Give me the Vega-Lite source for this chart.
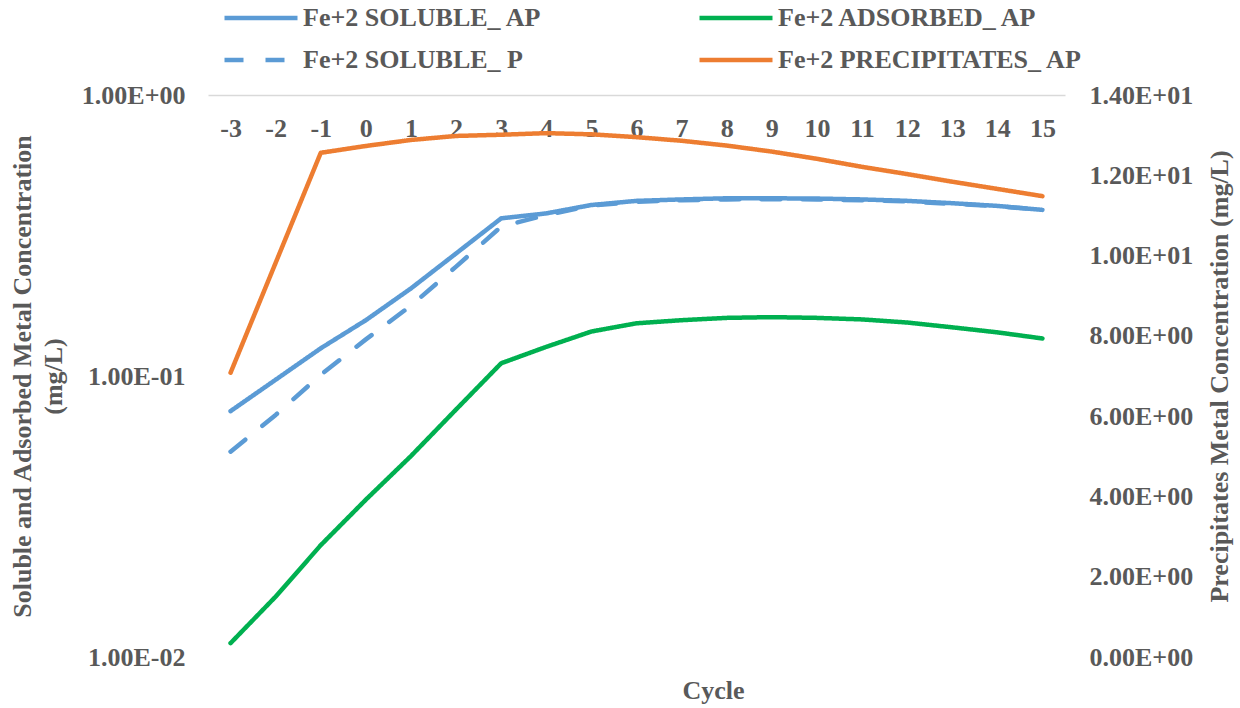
{
  "$schema": "https://vega.github.io/schema/vega-lite/v6.json",
  "width": 857,
  "height": 562,
  "autosize": {"type": "none"},
  "padding": {"left": 208, "top": 95, "right": 175, "bottom": 51},
  "background": "white",
  "config": {
    "view": {"stroke": null},
    "font": "Liberation Serif",
    "axis": {
      "labelFont": "Liberation Serif",
      "labelFontWeight": "bold",
      "labelFontSize": 26,
      "labelColor": "#595959",
      "titleFont": "Liberation Serif",
      "titleFontWeight": "bold",
      "titleFontSize": 26,
      "titleColor": "#595959",
      "grid": false,
      "ticks": false,
      "tickSize": 0
    },
    "legend": {
      "labelFont": "Liberation Serif",
      "labelFontWeight": "bold",
      "labelFontSize": 26,
      "labelColor": "#595959",
      "labelLimit": 400
    }
  },
  "data": {
    "values": [
      {"cycle": -3, "series": "Fe+2 SOLUBLE_ AP", "value": 0.075},
      {"cycle": -2, "series": "Fe+2 SOLUBLE_ AP", "value": 0.097},
      {"cycle": -1, "series": "Fe+2 SOLUBLE_ AP", "value": 0.1255},
      {"cycle": 0, "series": "Fe+2 SOLUBLE_ AP", "value": 0.158},
      {"cycle": 1, "series": "Fe+2 SOLUBLE_ AP", "value": 0.205},
      {"cycle": 2, "series": "Fe+2 SOLUBLE_ AP", "value": 0.273},
      {"cycle": 3, "series": "Fe+2 SOLUBLE_ AP", "value": 0.364},
      {"cycle": 4, "series": "Fe+2 SOLUBLE_ AP", "value": 0.379},
      {"cycle": 5, "series": "Fe+2 SOLUBLE_ AP", "value": 0.406},
      {"cycle": 6, "series": "Fe+2 SOLUBLE_ AP", "value": 0.42},
      {"cycle": 7, "series": "Fe+2 SOLUBLE_ AP", "value": 0.425},
      {"cycle": 8, "series": "Fe+2 SOLUBLE_ AP", "value": 0.429},
      {"cycle": 9, "series": "Fe+2 SOLUBLE_ AP", "value": 0.429},
      {"cycle": 10, "series": "Fe+2 SOLUBLE_ AP", "value": 0.428},
      {"cycle": 11, "series": "Fe+2 SOLUBLE_ AP", "value": 0.425},
      {"cycle": 12, "series": "Fe+2 SOLUBLE_ AP", "value": 0.42},
      {"cycle": 13, "series": "Fe+2 SOLUBLE_ AP", "value": 0.412},
      {"cycle": 14, "series": "Fe+2 SOLUBLE_ AP", "value": 0.403},
      {"cycle": 15, "series": "Fe+2 SOLUBLE_ AP", "value": 0.39},

      {"cycle": -3, "series": "Fe+2 ADSORBED_ AP", "value": 0.0112},
      {"cycle": -2, "series": "Fe+2 ADSORBED_ AP", "value": 0.0164},
      {"cycle": -1, "series": "Fe+2 ADSORBED_ AP", "value": 0.025},
      {"cycle": 0, "series": "Fe+2 ADSORBED_ AP", "value": 0.0363},
      {"cycle": 1, "series": "Fe+2 ADSORBED_ AP", "value": 0.0519},
      {"cycle": 2, "series": "Fe+2 ADSORBED_ AP", "value": 0.076},
      {"cycle": 3, "series": "Fe+2 ADSORBED_ AP", "value": 0.111},
      {"cycle": 4, "series": "Fe+2 ADSORBED_ AP", "value": 0.127},
      {"cycle": 5, "series": "Fe+2 ADSORBED_ AP", "value": 0.144},
      {"cycle": 6, "series": "Fe+2 ADSORBED_ AP", "value": 0.154},
      {"cycle": 7, "series": "Fe+2 ADSORBED_ AP", "value": 0.158},
      {"cycle": 8, "series": "Fe+2 ADSORBED_ AP", "value": 0.161},
      {"cycle": 9, "series": "Fe+2 ADSORBED_ AP", "value": 0.162},
      {"cycle": 10, "series": "Fe+2 ADSORBED_ AP", "value": 0.161},
      {"cycle": 11, "series": "Fe+2 ADSORBED_ AP", "value": 0.159},
      {"cycle": 12, "series": "Fe+2 ADSORBED_ AP", "value": 0.155},
      {"cycle": 13, "series": "Fe+2 ADSORBED_ AP", "value": 0.149},
      {"cycle": 14, "series": "Fe+2 ADSORBED_ AP", "value": 0.143},
      {"cycle": 15, "series": "Fe+2 ADSORBED_ AP", "value": 0.136},

      {"cycle": -3, "series": "Fe+2 SOLUBLE_ P", "value": 0.0538},
      {"cycle": -2, "series": "Fe+2 SOLUBLE_ P", "value": 0.0727},
      {"cycle": -1, "series": "Fe+2 SOLUBLE_ P", "value": 0.101},
      {"cycle": 0, "series": "Fe+2 SOLUBLE_ P", "value": 0.135},
      {"cycle": 1, "series": "Fe+2 SOLUBLE_ P", "value": 0.178},
      {"cycle": 2, "series": "Fe+2 SOLUBLE_ P", "value": 0.245},
      {"cycle": 3, "series": "Fe+2 SOLUBLE_ P", "value": 0.34},
      {"cycle": 4, "series": "Fe+2 SOLUBLE_ P", "value": 0.374},
      {"cycle": 5, "series": "Fe+2 SOLUBLE_ P", "value": 0.404},
      {"cycle": 6, "series": "Fe+2 SOLUBLE_ P", "value": 0.417},
      {"cycle": 7, "series": "Fe+2 SOLUBLE_ P", "value": 0.422},
      {"cycle": 8, "series": "Fe+2 SOLUBLE_ P", "value": 0.425},
      {"cycle": 9, "series": "Fe+2 SOLUBLE_ P", "value": 0.426},
      {"cycle": 10, "series": "Fe+2 SOLUBLE_ P", "value": 0.425},
      {"cycle": 11, "series": "Fe+2 SOLUBLE_ P", "value": 0.422},
      {"cycle": 12, "series": "Fe+2 SOLUBLE_ P", "value": 0.418},
      {"cycle": 13, "series": "Fe+2 SOLUBLE_ P", "value": 0.41},
      {"cycle": 14, "series": "Fe+2 SOLUBLE_ P", "value": 0.402},
      {"cycle": 15, "series": "Fe+2 SOLUBLE_ P", "value": 0.39},

      {"cycle": -3, "series": "Fe+2 PRECIPITATES_ AP", "value": 7.08},
      {"cycle": -2, "series": "Fe+2 PRECIPITATES_ AP", "value": 9.82},
      {"cycle": -1, "series": "Fe+2 PRECIPITATES_ AP", "value": 12.56},
      {"cycle": 0, "series": "Fe+2 PRECIPITATES_ AP", "value": 12.73},
      {"cycle": 1, "series": "Fe+2 PRECIPITATES_ AP", "value": 12.88},
      {"cycle": 2, "series": "Fe+2 PRECIPITATES_ AP", "value": 12.98},
      {"cycle": 3, "series": "Fe+2 PRECIPITATES_ AP", "value": 13.01},
      {"cycle": 4, "series": "Fe+2 PRECIPITATES_ AP", "value": 13.05},
      {"cycle": 5, "series": "Fe+2 PRECIPITATES_ AP", "value": 13.02},
      {"cycle": 6, "series": "Fe+2 PRECIPITATES_ AP", "value": 12.95},
      {"cycle": 7, "series": "Fe+2 PRECIPITATES_ AP", "value": 12.86},
      {"cycle": 8, "series": "Fe+2 PRECIPITATES_ AP", "value": 12.74},
      {"cycle": 9, "series": "Fe+2 PRECIPITATES_ AP", "value": 12.59},
      {"cycle": 10, "series": "Fe+2 PRECIPITATES_ AP", "value": 12.41},
      {"cycle": 11, "series": "Fe+2 PRECIPITATES_ AP", "value": 12.21},
      {"cycle": 12, "series": "Fe+2 PRECIPITATES_ AP", "value": 12.03},
      {"cycle": 13, "series": "Fe+2 PRECIPITATES_ AP", "value": 11.84},
      {"cycle": 14, "series": "Fe+2 PRECIPITATES_ AP", "value": 11.66},
      {"cycle": 15, "series": "Fe+2 PRECIPITATES_ AP", "value": 11.48}
    ]
  },
  "encoding": {
    "color": {
      "field": "series",
      "type": "nominal",
      "scale": {
        "domain": ["Fe+2 SOLUBLE_ AP", "Fe+2 SOLUBLE_ P", "Fe+2 ADSORBED_ AP", "Fe+2 PRECIPITATES_ AP"],
        "range": ["#5b9bd5", "#5b9bd5", "#00b050", "#ed7d31"]
      },
      "legend": {
        "title": null,
        "orient": "none",
        "legendX": 14,
        "legendY": -91,
        "columns": 2,
        "columnPadding": 155,
        "rowPadding": 14,
        "clipHeight": 28,
        "padding": 0,
        "symbolType": "stroke",
        "symbolSize": 5329,
        "symbolStrokeWidth": 4.5,
        "labelOffset": 3
      }
    },
    "strokeDash": {
      "field": "series",
      "type": "nominal",
      "scale": {
        "domain": ["Fe+2 SOLUBLE_ AP", "Fe+2 SOLUBLE_ P", "Fe+2 ADSORBED_ AP", "Fe+2 PRECIPITATES_ AP"],
        "range": [[1, 0], [19, 22], [1, 0], [1, 0]]
      },
      "legend": null
    }
  },
  "layer": [
    {
      "transform": [{"filter": "datum.series !== 'Fe+2 PRECIPITATES_ AP'"}],
      "mark": {"type": "line", "strokeWidth": 4.5, "strokeCap": "round", "strokeJoin": "round"},
      "encoding": {
        "x": {
          "field": "cycle",
          "type": "ordinal",
          "scale": {"type": "point", "padding": 0.5},
          "axis": {
            "orient": "top",
            "title": null,
            "labelAngle": 0,
            "labelPadding": -33,
            "labelBaseline": "middle",
            "domain": true,
            "domainColor": "#d9d9d9",
            "domainWidth": 1.5
          }
        },
        "y": {
          "field": "value",
          "type": "quantitative",
          "scale": {"type": "log", "domain": [0.01, 1], "nice": false},
          "axis": {
            "orient": "left",
            "values": [0.01, 0.1, 1],
            "domain": false,
            "labelPadding": 23,
            "labelExpr": "datum.value > 0.5 ? '1.00E+00' : datum.value > 0.05 ? '1.00E-01' : '1.00E-02'",
            "title": ["Soluble and Adsorbed Metal Concentration", "(mg/L)"],
            "titleAngle": -90,
            "titleAlign": "center",
            "titleBaseline": "alphabetic",
            "titleLineHeight": 31,
            "titleX": -178,
            "titleY": 281
          }
        }
      }
    },
    {
      "transform": [{"filter": "datum.series === 'Fe+2 PRECIPITATES_ AP'"}],
      "mark": {"type": "line", "strokeWidth": 4.5, "strokeCap": "round", "strokeJoin": "round"},
      "encoding": {
        "x": {
          "field": "cycle",
          "type": "ordinal",
          "axis": {
            "orient": "bottom",
            "labels": false,
            "domain": false,
            "title": "Cycle",
            "titleX": 505,
            "titleY": 41,
            "titleAlign": "center",
            "titleBaseline": "alphabetic"
          }
        },
        "y": {
          "field": "value",
          "type": "quantitative",
          "scale": {"domain": [0, 14], "nice": false},
          "axis": {
            "orient": "right",
            "values": [0, 2, 4, 6, 8, 10, 12, 14],
            "domain": false,
            "labelPadding": 24,
            "labelExpr": "datum.value < 10 ? format(datum.value, '.2f') + 'E+00' : format(datum.value / 10, '.2f') + 'E+01'",
            "title": "Precipitates Metal Concentration (mg/L)",
            "titleAngle": -90,
            "titleAlign": "center",
            "titleBaseline": "alphabetic",
            "titleX": 162,
            "titleY": 281
          }
        }
      }
    }
  ],
  "resolve": {"scale": {"y": "independent"}, "axis": {"x": "independent"}}
}
